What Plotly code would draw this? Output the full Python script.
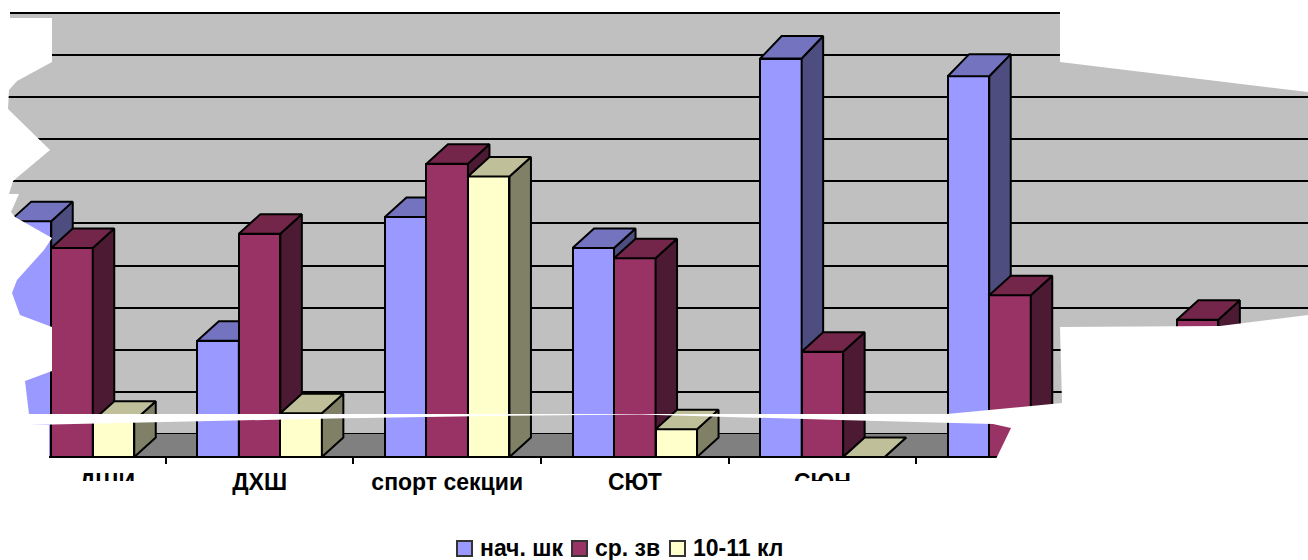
import plotly.graph_objects as go

# ---- data ----
categories = ["ДШИ", "ДХШ", "спорт секции", "СЮТ", "СЮН", "", ""]
series_names = ["нач. шк", "ср. зв", "10-11 кл"]
nach_shk = [28.0, 13.8, 28.5, 24.8, 47.3, 45.2, None]
sr_zv = [24.8, 26.5, 34.8, 23.6, 12.5, 19.2, 16.3]
kl_10_11 = [4.3, 5.2, 33.3, 3.3, 0.0, None, None]
grid_values = [0, 5, 10, 15, 20, 25, 30, 35, 40, 45, 50]

# ---- layout constants (pixels of the 1308x560 page) ----
W, H = 1308, 560
CAT_PX = 187.6
CENTER0_PX = 72.0
BAR_PX = 41.5
FRONT_BASE_PX = 457
WALL_BASE_PX = 434
UNIT_PX = 42.12 / 5
DEPTH_X_PX, DEPTH_Y_PX = 21.5, 19.5
FIRST_LABEL_PX = 107


def fx(p): return p / W
def fy(p): return 1 - p / H


def path(points):
    return "M " + " L ".join(f"{fx(x):.5f},{fy(y):.5f}" for x, y in points) + " Z"


x_range = [-CENTER0_PX / CAT_PX, (W - CENTER0_PX) / CAT_PX]
y_range_bars = [(FRONT_BASE_PX - H) / UNIT_PX, FRONT_BASE_PX / UNIT_PX]
y_range_wall = [(WALL_BASE_PX - H) / UNIT_PX, WALL_BASE_PX / UNIT_PX]
bar_w = BAR_PX / CAT_PX
depth_x = DEPTH_X_PX / CAT_PX
depth_y = DEPTH_Y_PX / UNIT_PX

styles = [
    dict(front="#9999FF", top="#7373BF", side="#4D4D80"),
    dict(front="#993366", top="#732649", side="#4D1A33"),
    dict(front="#FFFFCC", top="#BFBF99", side="#808066"),
]
all_values = [nach_shk, sr_zv, kl_10_11]
LW = 2

fig = go.Figure()
# floor of the 3-D box, in wall coordinates
floor_front = -(FRONT_BASE_PX - WALL_BASE_PX) / UNIT_PX
floor_left = (49 - CENTER0_PX) / CAT_PX
floor_depth = 22 / CAT_PX
fig.add_trace(go.Scatter(x=[floor_left, floor_left + floor_depth, x_range[1], x_range[1], floor_left],
                         y=[floor_front, 0, 0, floor_front, floor_front],
                         mode="lines", fill="toself", fillcolor="#808080", line=dict(width=0),
                         showlegend=False, hoverinfo="skip"))

for s, (name, values, st) in enumerate(zip(series_names, all_values, styles)):
    ax = s + 2
    xa, ya = f"x{ax}", f"y{ax}"
    xs = [i + (s - 1) * bar_w for i, v in enumerate(values) if v is not None]
    ys = [v for v in values if v is not None]
    fig.add_trace(go.Bar(x=xs, y=ys, width=bar_w, name=name, xaxis=xa, yaxis=ya,
                         marker=dict(color=st["front"], line=dict(color="black", width=LW)),
                         showlegend=False))
    side_x, side_y, top_x, top_y = [], [], [], []
    for cx, v in zip(xs, ys):
        l, r = cx - bar_w / 2, cx + bar_w / 2
        # slight perspective: the tallest bars show a deeper top face
        d = depth_y + max(0.0, v - 35) * 0.03
        side_x += [r, r + depth_x, r + depth_x, r, r, None]
        side_y += [0, depth_y, v + d, v, 0, None]
        top_x += [l, l + depth_x, r + depth_x, r, l, None]
        top_y += [v, v + d, v + d, v, v, None]
    for px_, py_, col in ((side_x, side_y, st["side"]), (top_x, top_y, st["top"])):
        fig.add_trace(go.Scatter(x=px_, y=py_, mode="lines", fill="toself", fillcolor=col,
                                 line=dict(color="black", width=LW), xaxis=xa, yaxis=ya,
                                 showlegend=False, hoverinfo="skip"))

axis_pos = fy(FRONT_BASE_PX)
label_font = dict(family="Liberation Sans", size=23, color="black", weight=700)

shapes = [
    # page white outside the box; sits over the plot background, under the gridlines and traces
    dict(type="rect", xref="paper", yref="paper", x0=0, x1=1, y0=fy(12), y1=1,
         fillcolor="white", line_width=0, layer="below"),
    dict(type="rect", xref="paper", yref="paper", x0=0, x1=1, y0=0, y1=fy(FRONT_BASE_PX),
         fillcolor="white", line_width=0, layer="below"),
]
# white torn-paper overlays of the reference picture
masks = [
    [(0, 0), (10, 0), (10, 18), (52, 18), (52, 62), (17, 81), (9, 90), (8, 109), (50, 150), (13, 181),
     (9, 194), (19, 194), (11, 212), (15, 217), (52, 238), (44, 250), (17, 280), (12, 293), (20, 315),
     (52, 327), (52, 371), (25, 381), (29, 414), (29, 425), (49, 425), (49, 457), (47, 560), (0, 560)],
    [(29, 414), (640, 414), (947, 414), (1062, 403), (1060, 327), (1220, 326), (W, 315), (W, H), (996, H),
     (996, 459), (1011, 428), (993, 424), (840, 420), (640, 414.5), (490, 416), (330, 418.5), (29, 425)],
    [(1060, 0), (W, 0), (W, 92), (1060, 62)],
    [(60, 481), (170, 481), (170, 510), (60, 510)],
    [(770, 481), (880, 481), (880, 510), (770, 510)],
]
for m in masks:
    shapes.append(dict(type="path", xref="paper", yref="paper", layer="above",
                       path=path(m), fillcolor="white", line_width=0))

# legend
swatch_px = [457, 572, 670]
legend_text_px = [478, 593, 691]
annotations = []
for name, st, sx, tx in zip(series_names, styles, swatch_px, legend_text_px):
    shapes.append(dict(type="rect", xref="paper", yref="paper", layer="above",
                       x0=fx(sx), x1=fx(sx + 15), y0=fy(556), y1=fy(541),
                       fillcolor=st["front"], line=dict(color="#333333", width=2)))
    annotations.append(dict(text=name, xref="paper", yref="paper", x=fx(tx), y=fy(548),
                            xanchor="left", yanchor="middle", showarrow=False, font=label_font))

label_pos = [FIRST_LABEL_PX] + [CENTER0_PX + i * CAT_PX for i in range(1, len(categories))]
hidden = dict(visible=False, range=x_range, fixedrange=True)
fig.update_layout(
    width=W, height=H, margin=dict(l=0, r=0, t=0, b=0),
    paper_bgcolor="white", plot_bgcolor="#C0C0C0", showlegend=False, bargap=0,
    barmode="overlay",
    shapes=shapes, annotations=annotations,
    xaxis=dict(range=x_range, anchor="free", position=axis_pos, showgrid=False, zeroline=False,
               showline=True, linecolor="black", linewidth=2, ticks="outside", ticklen=6,
               tickwidth=2, tickcolor="black", showticklabels=False,
               tickvals=[i + 0.5 for i in range(len(categories))]),
    yaxis=dict(range=y_range_wall, showgrid=True, gridcolor="black", gridwidth=2,
               tickmode="array", tickvals=grid_values, zeroline=False, showticklabels=False,
               ticks="", showline=False),
    xaxis2=dict(range=x_range, overlaying="x", anchor="free", position=axis_pos, showgrid=False,
                zeroline=False, showline=False, ticks="outside", ticklen=4,
                tickcolor="rgba(0,0,0,0)",
                tickvals=[(p - CENTER0_PX) / CAT_PX for p in label_pos], ticktext=categories,
                tickfont=label_font, tickangle=0),
    yaxis2=dict(range=y_range_bars, overlaying="y", visible=False),
    xaxis3=dict(hidden, overlaying="x"),
    yaxis3=dict(range=y_range_bars, overlaying="y", visible=False),
    xaxis4=dict(hidden, overlaying="x"),
    yaxis4=dict(range=y_range_bars, overlaying="y", visible=False),
)
fig.write_html("out.html", post_script="document.body.style.margin='0';",
               config=dict(displayModeBar=False))
